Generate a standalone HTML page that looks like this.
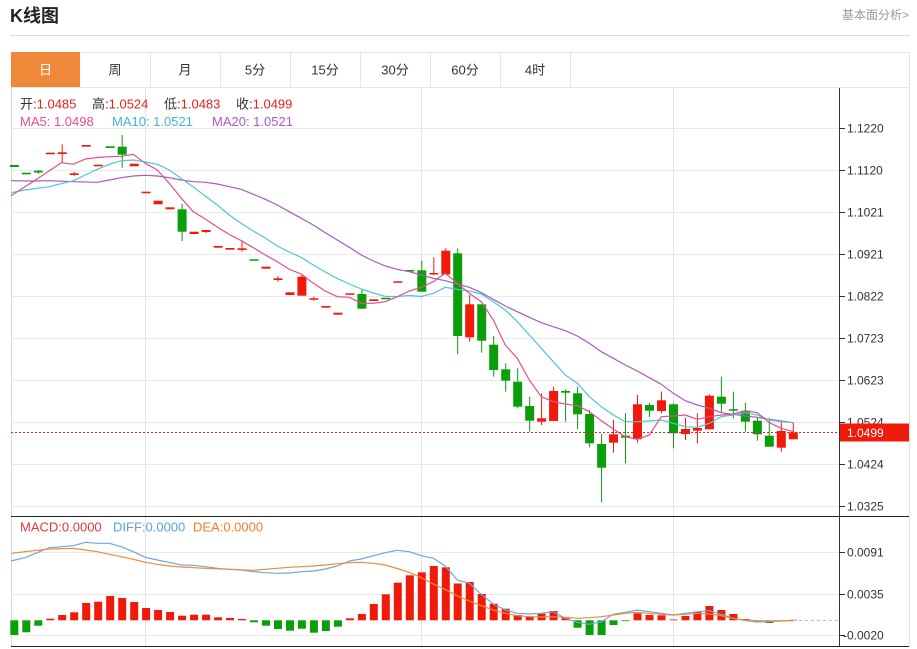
<!DOCTYPE html>
<html><head><meta charset="utf-8">
<style>
html,body{margin:0;padding:0;background:#fff;}
body{width:917px;height:649px;overflow:hidden;}
svg{display:block;}
text{font-family:"Liberation Sans","Noto Sans CJK SC",sans-serif;}
</style></head>
<body>
<svg width="917" height="649" viewBox="0 0 917 649" xmlns="http://www.w3.org/2000/svg">
<!-- header -->
<text x="10" y="22" font-size="18" font-weight="bold" fill="#222">K线图</text>
<text x="909" y="19" font-size="12" fill="#999" text-anchor="end">基本面分析&gt;</text>
<line x1="10" y1="35.5" x2="910" y2="35.5" stroke="#dcdcdc"/>

<!-- tabs -->
<rect x="11.5" y="52.5" width="898" height="35" fill="#fff" stroke="#e6e6e6"/>
<rect x="11" y="52" width="69" height="35" fill="#F0883A"/>
<g stroke="#e6e6e6">
<line x1="150.5" y1="52" x2="150.5" y2="87"/><line x1="220.5" y1="52" x2="220.5" y2="87"/>
<line x1="290.5" y1="52" x2="290.5" y2="87"/><line x1="360.5" y1="52" x2="360.5" y2="87"/>
<line x1="430.5" y1="52" x2="430.5" y2="87"/><line x1="500.5" y1="52" x2="500.5" y2="87"/>
<line x1="570.5" y1="52" x2="570.5" y2="87"/>
</g>
<g font-size="13" fill="#333" text-anchor="middle">
<text x="45.5" y="74.5" fill="#fff">日</text>
<text x="115" y="74.5">周</text>
<text x="185" y="74.5">月</text>
<text x="255" y="74.5">5分</text>
<text x="325" y="74.5">15分</text>
<text x="395" y="74.5">30分</text>
<text x="465" y="74.5">60分</text>
<text x="535" y="74.5">4时</text>
</g>

<!-- frame -->
<line x1="11.5" y1="87" x2="11.5" y2="647" stroke="#d8d8d8"/>
<line x1="909.5" y1="52" x2="909.5" y2="647" stroke="#e0e0e0"/>

<!-- grid -->
<g stroke="#e9e9e9">
<line x1="11" y1="128.5" x2="839" y2="128.5"/><line x1="11" y1="170.5" x2="839" y2="170.5"/>
<line x1="11" y1="212.5" x2="839" y2="212.5"/><line x1="11" y1="254.5" x2="839" y2="254.5"/>
<line x1="11" y1="296.5" x2="839" y2="296.5"/><line x1="11" y1="338.5" x2="839" y2="338.5"/>
<line x1="11" y1="380.5" x2="839" y2="380.5"/><line x1="11" y1="422.5" x2="839" y2="422.5"/>
<line x1="11" y1="464.5" x2="839" y2="464.5"/><line x1="11" y1="506.5" x2="839" y2="506.5"/>
<line x1="11" y1="552.5" x2="839" y2="552.5"/><line x1="11" y1="594.5" x2="839" y2="594.5"/>
<line x1="11" y1="635.5" x2="839" y2="635.5"/>
</g>
<g stroke="#dfe5ec">
<line x1="145.5" y1="88" x2="145.5" y2="647"/>
<line x1="421.5" y1="88" x2="421.5" y2="647"/>
<line x1="673.5" y1="88" x2="673.5" y2="647"/>
</g>

<!-- legend -->
<g font-size="13">
<text x="20" y="108.5" fill="#333">开:<tspan fill="#E8231E">1.0485</tspan></text>
<text x="92" y="108.5" fill="#333">高:<tspan fill="#E8231E">1.0524</tspan></text>
<text x="164" y="108.5" fill="#333">低:<tspan fill="#E8231E">1.0483</tspan></text>
<text x="236" y="108.5" fill="#333">收:<tspan fill="#E8231E">1.0499</tspan></text>
<text x="20" y="126" fill="#E4508A">MA5: 1.0498</text>
<text x="112" y="126" fill="#3FB8D0">MA10: 1.0521</text>
<text x="212" y="126" fill="#A85CC0">MA20: 1.0521</text>
<text x="20" y="531.5" fill="#E0383C">MACD:0.0000</text>
<text x="113" y="531.5" fill="#5DA0E0">DIFF:0.0000</text>
<text x="193" y="531.5" fill="#F07C30">DEA:0.0000</text>
</g>

<!-- candles -->
<g fill="#F01A0A">
<rect x="45.8" y="152.7" width="9" height="1.6"/>
<rect x="57.7" y="152.3" width="9" height="1.7"/><rect x="61.7" y="144.3" width="1" height="18.7"/>
<rect x="69.7" y="173.3" width="9" height="1.7"/><rect x="73.7" y="171.7" width="1" height="4"/>
<rect x="81.7" y="145" width="9" height="1.7"/>
<rect x="93.7" y="164.7" width="9" height="1.6"/>
<rect x="129.7" y="163.7" width="9" height="2.6"/>
<rect x="141.6" y="191.7" width="9" height="1.6"/>
<rect x="153.6" y="200.7" width="9" height="3.6"/>
<rect x="165.6" y="207.3" width="9" height="2"/>
<rect x="189.6" y="231.7" width="9" height="2.3"/>
<rect x="201.6" y="230" width="9" height="2"/><rect x="205.6" y="230" width="1" height="3"/>
<rect x="213.6" y="246" width="9" height="1.7"/>
<rect x="225.5" y="248" width="9" height="1.7"/>
<rect x="237.5" y="248.3" width="9" height="1.7"/><rect x="241.5" y="241" width="1" height="10.7"/>
<rect x="261.5" y="266.7" width="9" height="2"/>
<rect x="273.5" y="278.3" width="9" height="1.7"/><rect x="277.5" y="276" width="1" height="5.7"/>
<rect x="285.5" y="292.3" width="9" height="2.7"/>
<rect x="297.4" y="276.7" width="9" height="19"/><rect x="301.4" y="275" width="1" height="2"/>
<rect x="309.4" y="298.3" width="9" height="1.5"/><rect x="313.4" y="296.7" width="1" height="4"/>
<rect x="321.4" y="306" width="9" height="1.7"/>
<rect x="333.4" y="312.7" width="9" height="2"/>
<rect x="345.4" y="293.3" width="9" height="1.5"/>
<rect x="369.3" y="299.3" width="9" height="1.7"/>
<rect x="393.3" y="281.3" width="9" height="1.5"/>
<rect x="429.3" y="273" width="9" height="1.5"/><rect x="433.3" y="257.3" width="1" height="17.7"/>
<rect x="441.3" y="250.7" width="9" height="23.8"/><rect x="445.3" y="248.3" width="1" height="26"/>
<rect x="465.2" y="304.3" width="9" height="33"/><rect x="469.2" y="295" width="1" height="46.7"/>
<rect x="537.1" y="418.3" width="9" height="3.4"/><rect x="541.1" y="393.3" width="1" height="31.7"/>
<rect x="549.1" y="391" width="9" height="30"/><rect x="553.1" y="386.7" width="1" height="34.3"/>
<rect x="609" y="434.3" width="9" height="8.4"/><rect x="613" y="420" width="1" height="32.7"/>
<rect x="633" y="404.3" width="9" height="35"/><rect x="637" y="395" width="1" height="47.7"/>
<rect x="657" y="400.3" width="9" height="10.7"/><rect x="661" y="391.7" width="1" height="21.6"/>
<rect x="681" y="429" width="9" height="5"/><rect x="685" y="417.7" width="1" height="22.3"/>
<rect x="692.9" y="428" width="9" height="2.7"/><rect x="696.9" y="413.3" width="1" height="30"/>
<rect x="704.9" y="395.7" width="9" height="33.6"/><rect x="708.9" y="394.3" width="1" height="35"/>
<rect x="776.8" y="431" width="9" height="16.7"/><rect x="780.8" y="421.7" width="1" height="30"/>
<rect x="788.8" y="432.3" width="9" height="7"/><rect x="792.8" y="422.3" width="1" height="17"/>
</g>
<g fill="#0A9E0A">
<rect x="9.8" y="165" width="9" height="2"/>
<rect x="21.8" y="172.7" width="9" height="1.6"/>
<rect x="33.8" y="170.7" width="9" height="1.8"/><rect x="37.8" y="170" width="1" height="4"/>
<rect x="105.7" y="146.3" width="9" height="1.7"/>
<rect x="117.7" y="146.7" width="9" height="8"/><rect x="121.7" y="135" width="1" height="32.7"/>
<rect x="177.6" y="209.3" width="9" height="22.4"/><rect x="181.6" y="204" width="1" height="37"/>
<rect x="249.5" y="259.3" width="9" height="1.5"/>
<rect x="357.4" y="294" width="9" height="14.7"/><rect x="361.4" y="289" width="1" height="20"/>
<rect x="381.3" y="297.7" width="9" height="1.6"/>
<rect x="405.3" y="270" width="9" height="1.5"/>
<rect x="417.3" y="270.3" width="9" height="21.4"/><rect x="421.3" y="260.7" width="1" height="31"/>
<rect x="453.2" y="253.3" width="9" height="82.7"/><rect x="457.2" y="248.3" width="1" height="106"/>
<rect x="477.2" y="304.3" width="9" height="36.4"/><rect x="481.2" y="304.3" width="1" height="48.4"/>
<rect x="489.2" y="344.7" width="9" height="25.3"/><rect x="493.2" y="336" width="1" height="40.7"/>
<rect x="501.2" y="369.3" width="9" height="11.4"/><rect x="505.2" y="363.3" width="1" height="28.4"/>
<rect x="513.2" y="381.7" width="9" height="25"/><rect x="517.2" y="368.3" width="1" height="40"/>
<rect x="525.2" y="406" width="9" height="14.7"/><rect x="529.2" y="396.7" width="1" height="35"/>
<rect x="561.1" y="391" width="9" height="1.7"/><rect x="565.1" y="389.3" width="1" height="32.4"/>
<rect x="573.1" y="393.3" width="9" height="21"/><rect x="577.1" y="386.7" width="1" height="42.6"/>
<rect x="585.1" y="414" width="9" height="29.3"/><rect x="589.1" y="410" width="1" height="37.3"/>
<rect x="597.1" y="444" width="9" height="23.7"/><rect x="601.1" y="434" width="1" height="68.3"/>
<rect x="621" y="435.7" width="9" height="2"/><rect x="625" y="413.3" width="1" height="50"/>
<rect x="645" y="405" width="9" height="5.7"/><rect x="649" y="403" width="1" height="14"/>
<rect x="669" y="404.3" width="9" height="29"/><rect x="673" y="403.3" width="1" height="45"/>
<rect x="716.9" y="396.7" width="9" height="7"/><rect x="720.9" y="376.7" width="1" height="36.6"/>
<rect x="728.9" y="409.2" width="9" height="1.5"/><rect x="732.9" y="391.7" width="1" height="26.6"/>
<rect x="740.9" y="410.7" width="9" height="11"/><rect x="744.9" y="402.7" width="1" height="29"/>
<rect x="752.9" y="420.7" width="9" height="13.6"/><rect x="756.9" y="417.3" width="1" height="23.4"/>
<rect x="764.8" y="435.7" width="9" height="11"/><rect x="768.8" y="418.3" width="1" height="28.4"/>
</g>

<!-- MA lines -->
<g fill="none" stroke-width="1.2" stroke-linejoin="round">
<polyline stroke="#A85CC0" points="11,180.7 33,181 49.3,180.7 73.3,181.7 97.3,182.3 109.3,180 121.3,177.7 133.3,176 145.3,175.3 157.3,176 169.3,177.7 181.3,180 193.3,181.7 205.3,182.3 217.3,184 229.3,186.7 241.3,189.3 253.3,194.3 265.3,199.3 277.3,205 289.3,211.7 301.3,218.3 313.3,225 325.3,232.7 337.3,240 349.3,247.3 361.3,255 373.3,261 385.3,266 397.3,269.3 409.3,271.7 421.3,275 433.3,278.3 445.3,280.7 457.3,284 469.3,287.3 481.3,292.7 493.3,299.3 505.3,306 517.3,311.7 529.3,317.3 541.3,322.7 553.3,326.7 565.3,330.7 577.3,336 589.3,343.3 601.3,351.7 613.3,358.3 625.3,365 637.3,371 649.3,377.7 661.3,384.3 673.3,393.3 685.3,400.7 697.3,405 709.3,408.3 721.3,412.7 733.3,414.3 745.3,416 757.3,417.3 769.3,419.3 781.3,421 793.3,422.7"/>
<polyline stroke="#4CC6D8" points="11,192.7 25,190 49.3,186.7 73.3,180.7 85.3,175 97.3,169.3 109.3,164.3 121.3,160.7 133.3,160 145.3,162 157.3,164.3 169.3,170 181.3,178.5 193.3,187 205.3,196 217.3,205 229.3,215 241.3,223.5 253.3,231 265.3,238 277.3,246 289.3,252 301.3,257.5 313.3,265 325.3,272 337.3,278.5 349.3,284 361.3,289 373.3,293 385.3,296.3 397.3,296.5 409.3,295.5 421.3,296.5 433.3,293.3 445.3,287.3 457.3,289.3 469.3,291 481.3,294 493.3,301.7 505.3,310 517.3,321.7 529.3,335 541.3,348.3 553.3,361.7 565.3,375 577.3,383.3 589.3,396.7 601.3,406.7 613.3,415 625.3,421.7 637.3,421.7 649.3,421 661.3,420 673.3,423.3 685.3,426.7 697.3,427.3 709.3,423.3 721.3,416.7 733.3,415 745.3,412.7 757.3,415 769.3,420 781.3,421.7 793.3,422.7"/>
<polyline stroke="#E4508A" points="11,195.7 37,179 61.3,162.7 73.3,164.3 85.3,159 97.3,157.5 109.3,156.7 121.3,156.3 133.3,154.3 145.3,163.3 157.3,170 169.3,183.3 181.3,198.3 193.3,211.7 205.3,219 217.3,227 229.3,234.5 241.3,240.7 253.3,247.7 265.3,255 277.3,261.7 289.3,269.3 301.3,274 313.3,283.3 325.3,291 337.3,296.7 349.3,297.3 361.3,303.3 373.3,303.3 385.3,301.7 397.3,296.7 409.3,291 421.3,287.3 433.3,281.7 445.3,273.3 457.3,283.3 469.3,293.3 481.3,301.7 493.3,320 505.3,345 517.3,358.3 529.3,380 541.3,396.7 553.3,401.7 565.3,404 577.3,405.7 589.3,411.7 601.3,420.7 613.3,429 625.3,436.7 637.3,439.3 649.3,435 661.3,416.7 673.3,416 685.3,415 697.3,419.3 709.3,416.7 721.3,415 733.3,414 745.3,410.7 757.3,412.7 769.3,422.7 781.3,428.3 793.3,431.7"/>
</g>

<!-- current price line -->
<line x1="11" y1="432.5" x2="839" y2="432.5" stroke="#E52222" stroke-dasharray="2,2"/>

<!-- MACD bars -->
<g fill="#F01A0A">
<rect x="46.3" y="618.7" width="8" height="1.6"/><rect x="58.2" y="615" width="8" height="5.3"/>
<rect x="70.2" y="612.3" width="8" height="8"/><rect x="82.2" y="603" width="8" height="17.3"/>
<rect x="94.2" y="601.7" width="8" height="18.6"/><rect x="106.2" y="596" width="8" height="24.3"/>
<rect x="118.2" y="598" width="8" height="22.3"/><rect x="130.2" y="602" width="8" height="18.3"/>
<rect x="142.1" y="608" width="8" height="12.3"/><rect x="154.1" y="610" width="8" height="10.3"/>
<rect x="166.1" y="612" width="8" height="8.3"/><rect x="178.1" y="615.7" width="8" height="4.6"/>
<rect x="190.1" y="614.7" width="8" height="5.6"/><rect x="202.1" y="614.7" width="8" height="5.6"/>
<rect x="214.1" y="617.3" width="8" height="3"/><rect x="226" y="618" width="8" height="2.3"/>
<rect x="238" y="619" width="8" height="1.3"/>
<rect x="345.9" y="618.3" width="8" height="2"/><rect x="357.9" y="614" width="8" height="6.3"/>
<rect x="369.8" y="604" width="8" height="16.3"/><rect x="381.8" y="594.3" width="8" height="26"/>
<rect x="393.8" y="582.7" width="8" height="37.6"/><rect x="405.8" y="575.3" width="8" height="45"/>
<rect x="417.8" y="572.3" width="8" height="48"/><rect x="429.8" y="566" width="8" height="54.3"/>
<rect x="441.8" y="567.3" width="8" height="53"/><rect x="453.7" y="583.5" width="8" height="36.8"/>
<rect x="465.7" y="582" width="8" height="38.3"/><rect x="477.7" y="594" width="8" height="26.3"/>
<rect x="489.7" y="603.7" width="8" height="16.6"/><rect x="501.7" y="608.7" width="8" height="11.6"/>
<rect x="513.7" y="615" width="8" height="5.3"/><rect x="525.7" y="616.3" width="8" height="4"/>
<rect x="537.6" y="613.7" width="8" height="6.6"/><rect x="549.6" y="611" width="8" height="9.3"/>
<rect x="561.6" y="617.7" width="8" height="2.6"/>
<rect x="633.5" y="613.3" width="8" height="7"/><rect x="645.5" y="615" width="8" height="5.3"/>
<rect x="657.5" y="615.3" width="8" height="5"/><rect x="669.5" y="619.5" width="8" height="0.8"/>
<rect x="681.5" y="616" width="8" height="4.3"/><rect x="693.4" y="612" width="8" height="8.3"/>
<rect x="705.4" y="606" width="8" height="14.3"/><rect x="717.4" y="610" width="8" height="10.3"/>
<rect x="729.4" y="614" width="8" height="6.3"/><rect x="741.4" y="619" width="8" height="1.3"/>
<rect x="789.3" y="619.8" width="8" height="0.5"/>
</g>
<g fill="#0A9E0A">
<rect x="10.3" y="620.3" width="8" height="14.7"/><rect x="22.3" y="620.3" width="8" height="12"/>
<rect x="34.3" y="620.3" width="8" height="5.4"/>
<rect x="250" y="620.3" width="8" height="2"/><rect x="262" y="620.3" width="8" height="5.4"/>
<rect x="274" y="620.3" width="8" height="8.7"/><rect x="286" y="620.3" width="8" height="10.4"/>
<rect x="297.9" y="620.3" width="8" height="8.4"/><rect x="309.9" y="620.3" width="8" height="12.4"/>
<rect x="321.9" y="620.3" width="8" height="10.7"/><rect x="333.9" y="620.3" width="8" height="6.4"/>
<rect x="573.6" y="620.3" width="8" height="7.4"/><rect x="585.6" y="620.3" width="8" height="14.7"/>
<rect x="597.6" y="620.3" width="8" height="14.7"/><rect x="609.5" y="620.3" width="8" height="4.7"/>
<rect x="621.5" y="620.3" width="8" height="0.8"/>
<rect x="753.4" y="620.3" width="8" height="2"/><rect x="765.3" y="620.3" width="8" height="2.7"/>
<rect x="777.3" y="620.3" width="8" height="0.7"/>
</g>
<line x1="793" y1="620.5" x2="839" y2="620.5" stroke="#9cc8e8" stroke-dasharray="3,3"/>

<!-- DIFF / DEA -->
<g fill="none" stroke-width="1.2" stroke-linejoin="round">
<polyline stroke="#6AA8E0" points="11,561 25,557.7 49.3,547.7 73.3,545.7 85.3,542.3 97.3,543.3 109.3,543.3 121.3,546.7 133.3,551.7 145.3,557.3 157.3,560 169.3,562.3 181.3,565 193.3,565.3 205.3,566.7 217.3,568.3 229.3,569.3 241.3,570 253.3,571.7 265.3,572.7 277.3,573.3 289.3,573 301.3,571.7 313.3,571 325.3,569 337.3,566 349.3,561 361.3,559 373.3,555.7 385.3,552.7 397.3,550.3 409.3,551.7 421.3,555.7 433.3,558.3 445.3,566 457.3,580 469.3,583.3 481.3,594.3 493.3,604 505.3,610 517.3,613.3 529.3,614 541.3,613.3 553.3,611.7 565.3,618.3 577.3,622.3 589.3,624.3 601.3,621.7 613.3,614.3 625.3,612.3 637.3,610 649.3,611.7 661.3,613.3 673.3,615 685.3,613.3 697.3,611.7 709.3,610.7 721.3,614.3 733.3,618.3 745.3,620.7 757.3,621.7 769.3,621.7 781.3,621 793.3,620.7"/>
<polyline stroke="#F5883A" points="11,553.3 25,551.7 49.3,549 73.3,548.3 85.3,550 97.3,551.7 109.3,554.3 121.3,556.7 133.3,559.3 145.3,562.3 157.3,564.3 169.3,566 181.3,567 205.3,568.3 229.3,569.3 253.3,570.3 265.3,569.3 277.3,568.3 289.3,567.3 301.3,566.7 313.3,566 325.3,565 337.3,563.7 349.3,562.7 361.3,562.3 373.3,563.3 385.3,565 397.3,568.5 409.3,572.3 421.3,577.7 433.3,584 445.3,589.7 457.3,595.7 469.3,601 481.3,605.7 493.3,610 505.3,613.3 517.3,615.7 529.3,616.7 541.3,617 553.3,616.7 565.3,617.3 577.3,618.3 589.3,617.7 601.3,616.7 613.3,615 625.3,613.3 637.3,612.3 649.3,613.3 661.3,614.3 673.3,615 685.3,614.3 697.3,613.3 709.3,614 721.3,615.7 733.3,618.3 745.3,620 757.3,620.7 769.3,621 781.3,620.7 793.3,620.7"/>
</g>

<!-- axes -->
<line x1="839.5" y1="88" x2="839.5" y2="647" stroke="#333"/>
<line x1="11" y1="516.5" x2="909" y2="516.5" stroke="#222"/>
<line x1="11" y1="646.5" x2="909" y2="646.5" stroke="#222"/>
<g stroke="#333">
<line x1="839" y1="128.5" x2="845" y2="128.5"/><line x1="839" y1="170.5" x2="845" y2="170.5"/>
<line x1="839" y1="212.5" x2="845" y2="212.5"/><line x1="839" y1="254.5" x2="845" y2="254.5"/>
<line x1="839" y1="296.5" x2="845" y2="296.5"/><line x1="839" y1="338.5" x2="845" y2="338.5"/>
<line x1="839" y1="380.5" x2="845" y2="380.5"/><line x1="839" y1="422.5" x2="845" y2="422.5"/>
<line x1="839" y1="464.5" x2="845" y2="464.5"/><line x1="839" y1="506.5" x2="845" y2="506.5"/>
<line x1="839" y1="552.5" x2="845" y2="552.5"/><line x1="839" y1="594.5" x2="845" y2="594.5"/>
<line x1="839" y1="635.5" x2="845" y2="635.5"/>
</g>
<g font-size="12" fill="#333">
<text x="847" y="132.5">1.1220</text>
<text x="847" y="174.5">1.1120</text>
<text x="847" y="216.5">1.1021</text>
<text x="847" y="258.5">1.0921</text>
<text x="847" y="300.5">1.0822</text>
<text x="847" y="342.5">1.0723</text>
<text x="847" y="384.5">1.0623</text>
<text x="847" y="426.5">1.0524</text>
<text x="847" y="468.5">1.0424</text>
<text x="847" y="510.5">1.0325</text>
<text x="847" y="556.5">0.0091</text>
<text x="847" y="598.5">0.0035</text>
<text x="843" y="639.5">-0.0020</text>
</g>
<rect x="840" y="423.5" width="69" height="18" fill="#F01A0A"/>
<text x="847" y="437" font-size="12" fill="#fff">1.0499</text>
</svg>
</body></html>
